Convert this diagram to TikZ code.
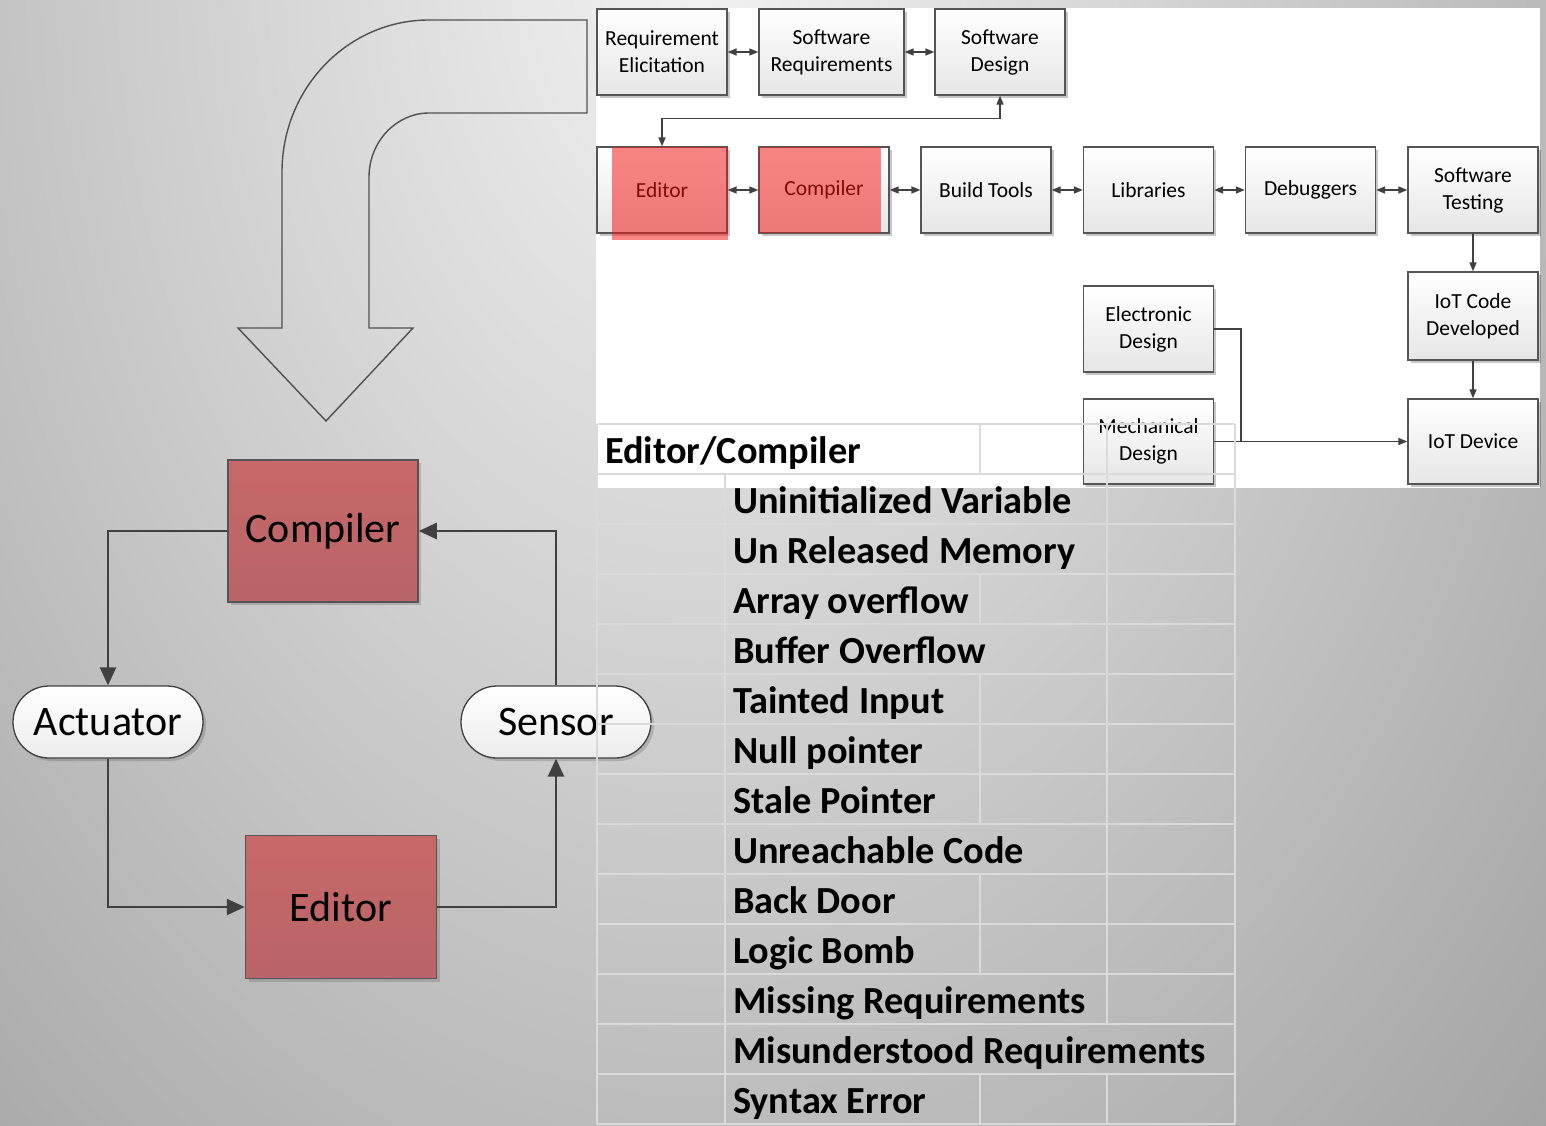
\documentclass[tikz,border=0pt]{standalone}
\usepackage{fontspec}
\setmainfont{Carlito}
\usetikzlibrary{arrows.meta,shadows}

\definecolor{bgin}{gray}{0.95}
\definecolor{bgout}{gray}{0.576}
\definecolor{boxline}{RGB}{85,85,85}
\definecolor{boxbot}{RGB}{230,230,230}
\definecolor{wire}{RGB}{64,64,64}
\definecolor{hired}{RGB}{244,20,20}
\definecolor{redtop}{RGB}{200,104,104}
\definecolor{redbot}{RGB}{184,100,104}
\definecolor{capbot}{RGB}{236,236,236}
\definecolor{gridc}{RGB}{218,218,218}
\definecolor{bigline}{RGB}{80,80,80}

% radial fall-off of the slide background (stretched to an ellipse by the shaded rectangle)
\pgfdeclareradialshading{slidebg}{\pgfpoint{0bp}{0bp}}{color(0bp)=(bgin); color(24bp)=(bgout); color(50bp)=(bgout)}

\tikzset{
  flowbox/.style={draw=boxline, line width=1.3pt, top color=white, bottom color=boxbot,
    minimum width=130pt, minimum height=86pt, inner sep=0pt, align=center,
    font=\fontsize{21.5}{27}\selectfont,
    drop shadow={shadow xshift=2.5pt, shadow yshift=-2.5pt, opacity=0.22, fill=black}},
  hilite/.style={fill=hired, fill opacity=0.52, draw=none},
  dbl/.style={draw=wire, line width=1.5pt, {Triangle[length=9pt,width=7pt]}-{Triangle[length=9pt,width=7pt]}},
  oneway/.style={draw=wire, line width=1.5pt, -{Triangle[length=9pt,width=7pt]}},
  plainwire/.style={draw=wire, line width=1.5pt},
  loopbox/.style={draw=boxline, line width=1.5pt, top color=redtop, bottom color=redbot,
    minimum width=190pt, minimum height=142pt, inner sep=0pt,
    font=\fontsize{42}{49}\selectfont,
    drop shadow={shadow xshift=3pt, shadow yshift=-3pt, opacity=0.15, fill=black}},
  loopend/.style={draw=wire, line width=1.3pt, top color=white, bottom color=capbot,
    rounded corners=36pt, minimum width=190pt, minimum height=72pt, inner sep=0pt,
    font=\fontsize{42}{49}\selectfont,
    drop shadow={shadow xshift=3pt, shadow yshift=-3pt, opacity=0.15, fill=black}},
  loopline/.style={draw=wire, line width=2.5pt, -{Triangle[length=18pt,width=16pt]}},
  gridline/.style={draw=gridc, line width=2.5pt},
  celltext/.style={anchor=base west, inner sep=0pt, font=\bfseries\fontsize{38.3}{46}\selectfont},
}

\begin{document}
\begin{tikzpicture}[x=1pt, y=-1pt]
\useasboundingbox (0,0) rectangle (1546,1125);

% slide background
\begin{scope}
  \clip (0,0) rectangle (1546,1125);
  \shade[shading=slidebg] (-800,-2210) rectangle (2200,2110);
\end{scope}

% bent block arrow
\draw[bigline, line width=1.4pt, line join=miter]
  (587,20) -- (429,20) .. controls (348,20) and (282,88) .. (282,172)
  -- (282,328) -- (238,328) -- (326,421) -- (413,328) -- (369,328)
  -- (369,177) .. controls (369,142) and (396,113) .. (429,113)
  -- (587,113) -- cycle;

% white panel with the development chain
\fill[white] (596,8) rectangle (1540,488);

\node[flowbox] (re) at (662,52) {Requirement\\Elicitation};
\node[flowbox, minimum width=145pt] (sr) at (831.5,52) {Software\\Requirements};
\node[flowbox] (sd) at (1000,52) {Software\\Design};

\node[flowbox] (ed) at (662,190) {Editor};
\node[flowbox] (co) at (824,190) {Compiler};
\node[flowbox] (bt) at (986,190) {Build Tools};
\node[flowbox] (li) at (1148.5,190) {Libraries};
\node[flowbox] (db) at (1310.5,190) {Debuggers};
\node[flowbox] (st) at (1473,190) {Software\\Testing};

\node[flowbox, minimum height=88pt] (ic) at (1473,316) {IoT Code\\Developed};
\node[flowbox] (el) at (1148.5,329) {Electronic\\Design};
\node[flowbox, minimum height=85pt] (me) at (1148.5,441.5) {Mechanical\\Design};
\node[flowbox, minimum height=85pt] (iot) at (1473,441.5) {IoT Device};

\draw[dbl] (re.east) -- (sr.west);
\draw[dbl] (sr.east) -- (sd.west);
\draw[dbl] (sd.south) -- ++(0,23) -| (ed.north);
\draw[dbl] (ed.east) -- (co.west);
\draw[dbl] (co.east) -- (bt.west);
\draw[dbl] (bt.east) -- (li.west);
\draw[dbl] (li.east) -- (db.west);
\draw[dbl] (db.east) -- (st.west);
\draw[oneway] (st.south) -- (ic.north);
\draw[oneway] (ic.south) -- (iot.north);
\coordinate (join) at (1241,441.5);
\draw[plainwire] (el.east) -| (join);
\draw[oneway] (me.east) -- (iot.west);

% red highlights over the editor and compiler steps
\fill[hilite] (612,147) rectangle (728,240);
\fill[hilite] (759,147) rectangle (881,233);

% editor / compiler loop
\node[loopbox] (cmp) at (323,531) {Compiler};
\node[loopbox, minimum width=191pt, minimum height=143pt] (edt) at (341,907) {Editor};
\node[loopend] (act) at (108,722) {Actuator};
\node[loopend] (sen) at (556,722) {Sensor};

\draw[loopline] (cmp.west) -| (act.north);
\draw[loopline] (act.south) |- (edt.west);
\draw[loopline] (edt.east) -| (sen.south);
\draw[loopline] (sen.north) |- (cmp.east);

% defect table grid
\foreach \i in {0,...,14}
  \draw[gridline] (597,424+50*\i) -- (1235,424+50*\i);
\draw[gridline] (597,424) -- (597,1124);
\draw[gridline] (1235,424) -- (1235,1124);
\draw[gridline] (725,474) -- (725,1124);
\foreach \i in {0,3,5,6,7,9,10,13}
  \draw[gridline] (980,424+50*\i) -- (980,474+50*\i);
\foreach \i in {0,...,11,13}
  \draw[gridline] (1107,424+50*\i) -- (1107,474+50*\i);

% defect table text
\node[celltext] (hdr) at (605,463) {Editor/Compiler};
\foreach \t [count=\i] in {Uninitialized Variable, Un Released Memory, Array overflow,
    Buffer Overflow, Tainted Input, Null pointer, Stale Pointer, Unreachable Code,
    Back Door, Logic Bomb, Missing Requirements, Misunderstood Requirements, Syntax Error}
  \node[celltext] (t\i) at (733,463+50*\i) {\t};
\end{tikzpicture}
\end{document}
